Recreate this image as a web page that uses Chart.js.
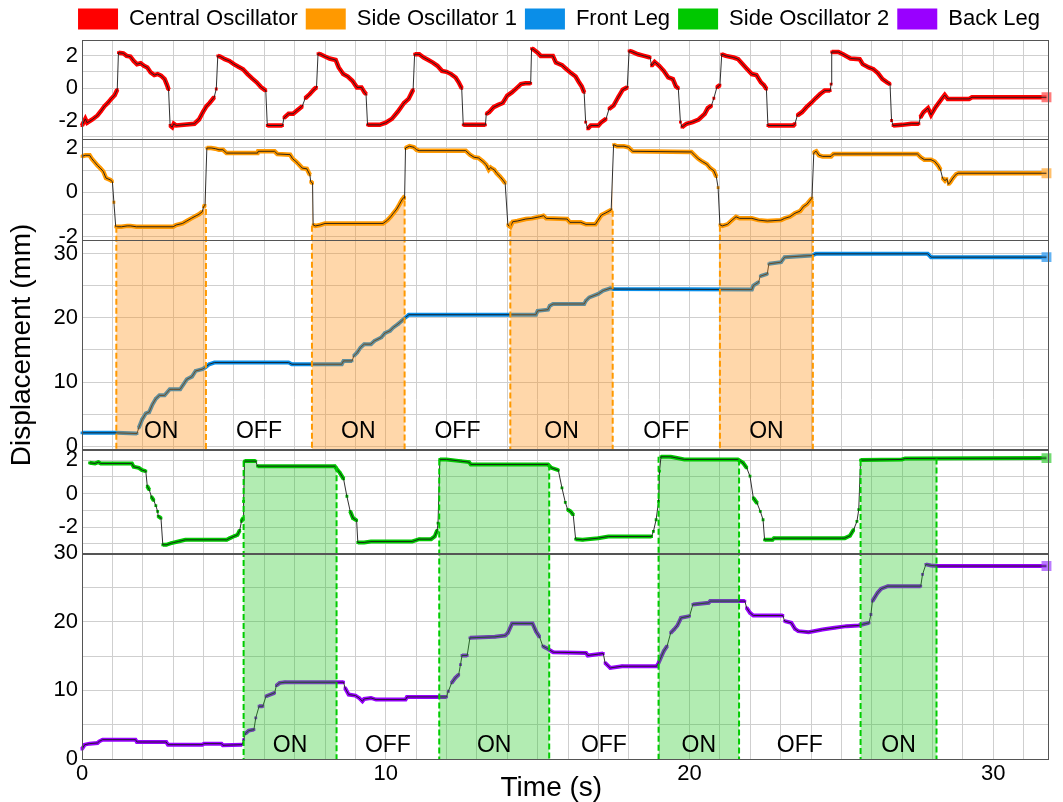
<!DOCTYPE html>
<html><head><meta charset="utf-8">
<script src="https://cdn.jsdelivr.net/npm/chart.js@4.4.1/dist/chart.umd.min.js"></script>
<style>html,body{margin:0;padding:0;background:#fff}canvas{display:block}</style>
</head><body>
<canvas id="c" width="1063" height="802"></canvas>
<script>
// ---------- data ----------
const centralT = [0,0.11,0.17,0.34,0.51,0.62,0.74,0.85,0.96,1.08,1.16,1.2,1.36,1.47,1.59,1.7,1.81,1.93,2.04,2.15,2.26,2.38,2.49,2.6,2.72,2.8,2.85,2.9,2.97,3.02,3.1,3.7,3.85,3.98,4.1,4.2,4.35,4.42,4.47,4.55,4.7,4.85,5.0,5.15,5.3,5.45,5.6,5.75,5.9,6.05,6.1,6.6,6.65,6.8,6.95,7.1,7.25,7.35,7.5,7.65,7.72,7.77,7.85,8.0,8.15,8.35,8.45,8.6,8.75,8.9,9.05,9.2,9.3,9.35,9.4,9.8,10.0,10.2,10.4,10.6,10.75,10.9,10.95,11.1,11.25,11.4,11.55,11.7,11.85,12.0,12.15,12.3,12.4,12.5,12.55,13.28,13.31,13.4,13.55,13.7,13.85,14.0,14.15,14.3,14.45,14.6,14.77,14.8,14.85,15.0,15.1,15.5,15.6,15.8,15.95,16.1,16.25,16.35,16.45,16.53,16.58,16.65,16.75,17.0,17.1,17.25,17.35,17.5,17.65,17.8,17.95,18.01,18.1,18.3,18.5,18.7,18.75,18.85,19.0,19.15,19.3,19.45,19.55,19.63,19.7,19.75,19.9,20.1,20.3,20.5,20.6,20.72,20.8,20.9,21.0,21.06,21.2,21.45,21.6,21.75,21.9,22.05,22.2,22.35,22.45,22.53,22.58,23.42,23.47,23.55,23.7,23.85,24.0,24.15,24.3,24.45,24.63,24.66,24.68,24.9,25.05,25.3,25.6,25.7,25.9,26.05,26.2,26.35,26.5,26.6,26.65,26.7,27.0,27.3,27.55,27.6,27.7,27.85,27.95,28.1,28.3,28.4,28.5,29.2,29.3,31.75];
const centralV = [-2.31,-1.9,-2.14,-1.94,-1.69,-1.43,-1.12,-0.92,-0.67,-0.43,-0.1,2.18,2.14,1.98,1.94,1.67,1.47,1.53,1.37,1.27,0.96,0.8,0.86,0.76,0.55,0.18,-0.1,-2.31,-2.41,-2.2,-2.31,-2.2,-1.94,-1.49,-1.12,-0.92,-0.57,-0.06,1.98,1.94,1.78,1.67,1.47,1.31,1.16,0.86,0.59,0.35,0.04,-0.16,-2.31,-2.31,-1.84,-1.59,-1.59,-1.35,-1.12,-0.63,-0.37,-0.06,0.04,2.12,2.08,1.94,1.82,1.73,1.27,0.86,0.71,0.45,0.04,0.04,-0.27,-0.37,-2.27,-2.27,-2.14,-1.9,-1.45,-0.92,-0.67,-0.1,2.08,2.08,1.88,1.73,1.57,1.37,1.06,1.0,0.86,0.65,0.35,-0.02,-2.27,-2.27,-1.59,-1.49,-1.18,-1.04,-0.92,-0.47,-0.27,-0.02,0.24,0.29,0.29,2.43,2.39,2.18,1.98,1.98,1.57,1.41,1.16,0.92,0.71,0.39,0.1,-0.27,-2.1,-2.51,-2.31,-2.31,-2.1,-1.9,-1.29,-1.08,-0.57,-0.1,0.04,2.29,2.24,2.08,1.98,1.88,1.37,1.61,1.37,1.06,0.65,0.55,0.1,-0.02,-2.1,-2.41,-2.2,-2.1,-1.94,-1.59,-1.24,-1.08,-0.63,0.04,0.18,2.08,1.98,1.88,1.78,1.47,1.16,0.86,0.8,0.35,0.18,-0.06,-2.31,-2.31,-2.2,-1.69,-1.49,-1.18,-0.92,-0.63,-0.37,-0.16,-0.16,0.24,2.22,2.22,2.08,1.82,1.78,1.47,1.27,1.16,0.92,0.55,0.35,0.24,-2.0,-2.31,-2.27,-2.2,-2.2,-1.8,-1.49,-1.24,-1.65,-1.18,-0.67,-0.43,-0.67,-0.67,-0.57,-0.57];

const side1T = [0,0.11,0.25,0.32,0.4,0.51,0.6,0.7,0.79,0.93,1.0,1.05,1.11,1.3,1.49,1.59,1.79,3.0,3.1,3.31,3.45,3.6,3.76,3.85,3.96,4.0,4.05,4.11,4.25,4.39,4.51,4.64,4.76,5.78,5.8,6.34,6.43,6.85,6.93,7.04,7.13,7.25,7.4,7.5,7.53,7.59,7.61,7.68,7.84,8.0,9.91,10.06,10.16,10.25,10.36,10.45,10.53,10.59,10.62,10.65,10.78,10.93,11.01,11.1,12.63,12.77,12.91,13.05,13.2,13.31,13.39,13.45,13.51,13.57,13.65,13.76,13.85,13.93,14.02,14.1,14.18,14.33,14.61,14.81,15.06,15.19,15.28,15.97,16.06,16.42,16.59,16.9,16.99,17.1,17.22,17.31,17.42,17.5,17.61,17.84,17.99,18.13,20.06,20.17,20.28,20.42,20.57,20.68,20.8,20.88,20.94,21.0,21.08,21.25,21.4,21.53,21.65,22.05,22.27,22.56,23.01,23.13,23.3,23.47,23.64,23.75,23.86,23.98,24.03,24.09,24.12,24.17,24.26,24.38,24.66,24.74,27.5,27.61,27.73,27.95,28.07,28.18,28.26,28.33,28.41,28.47,28.52,28.58,28.67,28.78,28.86,31.75];
const side1V = [1.62,1.67,1.67,1.52,1.39,1.21,1.09,0.94,0.64,0.56,0.48,-0.45,-1.56,-1.56,-1.52,-1.52,-1.56,-1.56,-1.48,-1.41,-1.3,-1.18,-1.06,-1.0,-0.88,-0.65,-0.6,2.0,2.0,1.97,1.92,1.92,1.77,1.77,1.85,1.85,1.73,1.7,1.52,1.39,1.27,1.09,1.06,0.79,0.48,0.41,-1.48,-1.52,-1.48,-1.41,-1.41,-1.26,-1.11,-0.95,-0.76,-0.55,-0.35,-0.24,-0.27,2.0,2.08,2.03,1.92,1.88,1.88,1.7,1.58,1.55,1.39,1.24,1.02,1.12,1.06,1.02,0.86,0.71,0.56,0.41,-1.48,-1.56,-1.33,-1.3,-1.21,-1.18,-1.11,-1.06,-1.18,-1.21,-1.36,-1.36,-1.45,-1.45,-1.26,-1.03,-0.95,-0.88,-0.8,2.15,2.08,2.08,2.03,1.85,1.82,1.67,1.52,1.39,1.27,1.09,0.97,0.71,0.21,-1.48,-1.52,-1.45,-1.26,-1.11,-1.18,-1.18,-1.26,-1.3,-1.26,-1.18,-1.11,-0.95,-0.85,-0.65,-0.55,-0.35,-0.27,1.77,1.82,1.85,1.67,1.62,1.62,1.73,1.73,1.58,1.47,1.47,1.39,1.21,1.02,0.64,0.52,0.61,0.36,0.45,0.64,0.82,0.86,0.86];

const frontT = [0,1.13,1.81,1.87,1.98,2.1,2.21,2.32,2.43,2.55,2.72,2.89,3.23,3.34,3.45,3.62,3.74,3.96,4.05,4.19,4.36,6.8,6.91,8.55,8.61,8.89,8.95,9.06,9.17,9.29,9.51,9.63,9.85,9.97,10.14,10.25,10.4,10.53,10.65,10.76,14.94,15.0,15.34,15.4,15.51,16.53,16.59,16.7,16.99,17.16,17.39,17.5,22.05,22.1,22.27,22.33,22.56,22.61,23.01,23.13,24.03,24.15,27.84,27.95,31.75];
const frontV = [2.09,2.09,1.98,2.87,4.17,5.11,5.32,6.52,7.41,7.93,7.93,8.87,8.87,9.65,10.43,10.85,11.74,12.0,12.26,12.78,13.04,13.04,12.78,12.78,13.3,13.3,14.08,14.61,15.39,15.91,15.91,16.43,16.95,17.63,18.0,18.52,19.04,19.56,20.08,20.5,20.5,21.1,21.28,21.9,22.17,22.17,22.69,23.2,23.73,24.26,24.62,24.5,24.41,25.04,25.56,26.5,26.87,28.43,28.69,29.47,29.73,29.99,29.99,29.47,29.47];

const side2T = [0.25,0.43,0.54,0.62,1.64,1.7,1.87,1.98,2.1,2.15,2.21,2.29,2.36,2.43,2.49,2.51,2.6,2.66,2.77,2.94,3.17,3.4,4.76,4.87,5.04,5.12,5.19,5.25,5.3,5.32,5.35,5.72,5.78,8.32,8.38,8.49,8.61,8.72,8.83,8.92,9.04,9.08,9.29,9.51,10.87,11.1,11.49,11.61,11.69,11.72,11.78,12.0,12.46,12.74,12.8,15.34,15.45,15.68,15.8,15.91,15.99,16.08,16.17,16.25,16.48,16.99,17.33,18.75,18.81,18.9,18.98,19.01,19.06,19.38,19.55,19.83,21.59,21.76,21.88,21.99,22.1,22.22,22.33,22.42,22.47,22.73,22.78,25.11,25.28,25.4,25.51,25.57,25.63,26.99,27.1,31.75];
const side2V = [1.84,1.8,1.88,1.8,1.8,1.6,1.54,1.4,1.34,0.44,0.24,-0.2,-0.4,-0.72,-1.06,-1.36,-1.46,-3.06,-3.06,-2.96,-2.86,-2.76,-2.76,-2.66,-2.52,-2.46,-2.2,-1.66,-1.46,-0.46,1.94,1.94,1.64,1.64,1.48,1.24,0.88,-0.16,-1.06,-1.46,-1.6,-2.92,-2.92,-2.86,-2.86,-2.72,-2.72,-2.56,-2.2,-1.76,2.04,2.04,1.94,1.88,1.74,1.74,1.54,1.4,0.34,-0.52,-0.96,-1.06,-1.26,-2.72,-2.76,-2.66,-2.56,-2.56,-2.26,-1.56,-0.46,1.34,2.2,2.2,2.14,2.04,2.04,1.84,1.54,1.04,-0.26,-0.56,-1.06,-1.56,-2.76,-2.76,-2.66,-2.66,-2.52,-2.16,-1.66,-0.96,2.0,2.04,2.1,2.12];

const backT = [0,0.09,0.25,0.51,0.57,0.68,1.76,1.81,2.77,2.83,3.96,4.02,4.59,4.64,5.27,5.32,5.38,5.49,5.66,5.72,5.83,5.95,6.06,6.34,6.4,6.51,6.68,8.61,8.66,8.78,9.0,9.12,9.23,9.29,9.51,9.68,10.65,10.7,12.0,12.06,12.17,12.29,12.4,12.46,12.51,12.68,12.77,13.59,13.93,14.02,14.16,14.83,14.94,15.06,15.17,15.28,15.51,16.59,16.65,17.16,17.22,17.39,17.78,18.92,18.98,19.15,19.26,19.38,19.49,19.6,19.72,20.0,20.11,20.63,20.68,21.82,21.88,21.99,22.1,23.07,23.13,23.35,23.47,23.58,23.92,24.38,24.77,25.17,25.57,25.68,25.91,25.97,26.02,26.19,26.31,26.53,27.61,27.67,27.78,27.95,28.18,31.75];
const backV = [1.46,2.09,2.24,2.34,2.58,2.82,2.82,2.48,2.48,2.09,2.09,2.24,2.24,2.0,2.09,2.82,3.7,4.14,4.28,5.99,7.69,7.69,9.15,9.64,10.71,11.1,11.19,11.19,10.36,9.39,9.25,8.9,8.42,8.76,8.9,8.66,8.66,9.05,9.05,9.88,11.1,11.82,12.31,13.77,15.09,15.09,17.66,17.81,18.0,18.39,19.76,19.76,18.64,17.81,16.45,16.2,15.57,15.47,15.09,15.38,14.01,13.28,13.53,13.53,14.01,15.72,16.45,18.39,18.88,19.46,20.58,20.83,22.53,22.77,23.02,23.02,22.04,21.31,20.92,20.92,20.1,19.85,18.98,18.64,18.49,18.88,19.12,19.37,19.46,19.61,19.85,21.07,23.02,24.23,24.82,25.2,25.2,26.91,28.37,28.22,28.13,28.13];

// actuation intervals (s)
const side1OnStart = [1.13, 7.57, 14.1, 21.0];
const side1OnEnd   = [4.08, 10.62, 17.47, 24.06];
const side2OnStart = [5.32, 11.76, 18.98, 25.63];
const side2OnEnd   = [8.38, 15.38, 21.63, 28.13];

// ticks
const xGridValues  = [0,1,2,3,4,5,6,7,8,9,10,11,12,13,14,15,16,17,18,19,20,21,22,23,24,25,26,27,28,29,30,31];
const xLabelValues = [0,10,20,30];
const oscGridValues  = [-3,-2,-1,0,1,2];
const oscLabelValues = [-2,0,2];
const legGridValues  = [0,5,10,15,20,25,30];
const legLabelValues = [0,10,20,30];

// ---------- chart ----------
const FONT = "'Liberation Sans', Arial, Helvetica, sans-serif";
Chart.defaults.font.family = FONT;
Chart.defaults.color = '#000';

const SERIES = [
  {label:'Central Oscillator', t:centralT, v:centralV, color:'#ff0000', end:'rgba(255,90,90,0.8)',  axis:'yCentral', width:4.5},
  {label:'Side Oscillator 1',  t:side1T,   v:side1V,   color:'#ff9900', end:'rgba(255,180,80,0.85)', axis:'ySide1',   width:4.5},
  {label:'Front Leg',          t:frontT,   v:frontV,   color:'#0a8ee8', end:'rgba(60,160,240,0.8)',  axis:'yFront',   width:4},
  {label:'Side Oscillator 2',  t:side2T,   v:side2V,   color:'#00c800', end:'rgba(80,210,80,0.8)',   axis:'ySide2',   width:4},
  {label:'Back Leg',           t:backT,    v:backV,    color:'#9900ff', end:'rgba(170,90,255,0.8)',  axis:'yBack',    width:4}
];
const zip = (ts, vs) => ts.map((t, i) => ({x: t, y: vs[i]}));
const steep = c => {
  const dx = Math.abs(c.p1.x - c.p0.x), dy = Math.abs(c.p1.y - c.p0.y);
  return dy > 5 && dy > 2.5 * dx;
};

const datasets = [];
SERIES.forEach(s => {
  const last = s.t.length - 1;
  datasets.push({
    label: s.label, data: zip(s.t, s.v), yAxisID: s.axis, xAxisID: 'x',
    borderColor: s.color, backgroundColor: s.color, borderWidth: s.width,
    fill: false, tension: 0, order: 2, clip: 8,
    pointStyle: 'rect',
    pointRadius: c => c.dataIndex === last ? 7 : 2,
    pointBackgroundColor: c => c.dataIndex === last ? s.end : s.color,
    pointBorderWidth: 0,
    segment: { borderColor: c => steep(c) ? 'rgba(0,0,0,0)' : undefined }
  });
});
SERIES.forEach(s => {
  datasets.push({
    label: s.label + ' trace', hideInLegend: true, data: zip(s.t, s.v), yAxisID: s.axis, xAxisID: 'x',
    borderColor: 'rgba(25,25,25,0.9)', borderWidth: 1, pointRadius: 0, fill: false, tension: 0, order: 1
  });
});

const GRID = '#cfcfcf', BORDER = '#555';
function yAxis(min, max, weight, grid, labels, extra) {
  return Object.assign({
    type: 'linear', position: 'left', stack: 'panels', stackWeight: weight, min, max,
    afterBuildTicks: s => { s.ticks = grid.filter(v => v >= min && v <= max).map(v => ({value: v})); },
    afterFit: s => { s.width = 82; },
    ticks: { autoSkip: false, padding: 4, font: {size: 22}, color: '#000',
             callback: v => labels.includes(v) ? String(v) : '' },
    grid: { color: GRID, drawTicks: false },
    border: { color: BORDER }
  }, extra || {});
}

const REGIONS = [
  {src: 1, leg: 'yFront', starts: side1OnStart, ends: side1OnEnd, fill: 'rgba(255,145,20,0.36)', line: '#ff9900', labelValue: 2.3},
  {src: 3, leg: 'yBack',  starts: side2OnStart, ends: side2OnEnd, fill: 'rgba(30,200,30,0.34)',  line: '#00cc00', labelValue: 2.0}
];
function curveYAt(pts, x) {
  for (let i = 0; i < pts.length - 1; i++) {
    const a = pts[i], b = pts[i + 1];
    if (x >= a.x && x <= b.x) return b.x === a.x ? a.y : a.y + (b.y - a.y) * (x - a.x) / (b.x - a.x);
  }
  return pts[pts.length - 1].y;
}
const regionPlugin = {
  id: 'onRegions',
  beforeDatasetsDraw(chart) {
    const ctx = chart.ctx, xs = chart.scales.x;
    REGIONS.forEach(r => {
      const meta = chart.getDatasetMeta(r.src), ys = meta.yScale, pts = meta.data;
      r.starts.forEach((s, i) => {
        const x0 = xs.getPixelForValue(s), x1 = xs.getPixelForValue(r.ends[i]);
        ctx.save();
        ctx.beginPath(); ctx.rect(x0, ys.top, x1 - x0, ys.bottom - ys.top); ctx.clip();
        ctx.beginPath(); ctx.moveTo(pts[0].x, ys.bottom);
        pts.forEach(p => ctx.lineTo(p.x, p.y));
        ctx.lineTo(pts[pts.length - 1].x, ys.bottom); ctx.closePath();
        ctx.fillStyle = r.fill; ctx.fill();
        ctx.restore();
      });
    });
  },
  afterDatasetsDraw(chart) {
    const ctx = chart.ctx, xs = chart.scales.x;
    REGIONS.forEach(r => {
      const meta = chart.getDatasetMeta(r.src), pts = meta.data, ls = chart.scales[r.leg];
      ctx.save();
      r.starts.forEach((s, i) => {
        const x0 = xs.getPixelForValue(s), x1 = xs.getPixelForValue(r.ends[i]);
        ctx.fillStyle = r.fill;
        ctx.fillRect(x0, ls.top, x1 - x0, ls.bottom - ls.top);
        ctx.strokeStyle = r.line; ctx.lineWidth = 2; ctx.setLineDash([6, 3]);
        [[x0, curveYAt(pts, x0 + 3)], [x1, curveYAt(pts, x1 - 3)]].forEach(([x, y]) => {
          ctx.beginPath(); ctx.moveTo(x, y); ctx.lineTo(x, ls.bottom); ctx.stroke();
        });
      });
      ctx.setLineDash([]);
      ctx.fillStyle = '#000'; ctx.font = "23px " + FONT; ctx.textAlign = 'center'; ctx.textBaseline = 'middle';
      const y = ls.getPixelForValue(r.labelValue);
      r.starts.forEach((s, i) => {
        ctx.fillText('ON', xs.getPixelForValue((s + r.ends[i]) / 2), y);
        if (i < r.starts.length - 1) ctx.fillText('OFF', xs.getPixelForValue((r.ends[i] + r.starts[i + 1]) / 2), y);
      });
      ctx.restore();
    });
  }
};
const framePlugin = {
  id: 'panelFrames',
  afterDraw(chart) {
    const ctx = chart.ctx, ca = chart.chartArea;
    ctx.save(); ctx.strokeStyle = BORDER; ctx.lineWidth = 1;
    ['yCentral','ySide1','yFront','ySide2','yBack'].forEach(id => {
      const s = chart.scales[id];
      ctx.strokeRect(Math.round(ca.left) + 0.5, Math.round(s.top) + 0.5, Math.round(ca.right - ca.left), Math.round(s.bottom - s.top));
    });
    // x-axis title, placed slightly left of centre as in the original figure
    const xs = chart.scales.x;
    ctx.fillStyle = '#000'; ctx.font = "28px " + FONT; ctx.textAlign = 'center'; ctx.textBaseline = 'middle';
    ctx.fillText('Time (s)', xs.getPixelForValue(15.45), xs.bottom - 14);
    ctx.restore();
  }
};

new Chart(document.getElementById('c'), {
  type: 'line',
  data: { datasets },
  plugins: [regionPlugin, framePlugin],
  options: {
    responsive: false, animation: false, events: [],
    layout: { padding: { top: 0, right: 15, bottom: 0, left: 0 } },
    plugins: {
      tooltip: { enabled: false },
      legend: {
        position: 'top', align: 'end',
        labels: {
          boxWidth: 40, boxHeight: 21, padding: 8, font: { size: 22 }, color: '#000',
          filter: (item, data) => !data.datasets[item.datasetIndex].hideInLegend,
          generateLabels: chart => Chart.defaults.plugins.legend.labels.generateLabels(chart).map(l => {
            const c = chart.data.datasets[l.datasetIndex].borderColor;
            return Object.assign(l, { lineWidth: 0, fillStyle: c, strokeStyle: c });
          })
        }
      }
    },
    scales: {
      x: {
        type: 'linear', position: 'bottom', min: 0, max: 31.8,
        afterBuildTicks: s => { s.ticks = xGridValues.map(v => ({value: v})); },
        afterFit: s => { s.height = 43; },
        ticks: { autoSkip: false, maxRotation: 0, padding: 2, font: {size: 22}, color: '#000',
                 callback: v => xLabelValues.includes(v) ? String(v) : '' },
        grid: { color: GRID, drawTicks: false },
        border: { color: BORDER }
      },
      yBack:    yAxis(0, 30, 205.5, legGridValues, legLabelValues),
      ySide2:   yAxis(-3.56, 2.63, 103.5, oscGridValues, oscLabelValues),
      yFront:   yAxis(-0.52, 32.1, 209, legGridValues, legLabelValues, {
                  title: { display: true, text: 'Displacement (mm)', font: { size: 28, lineHeight: 1 }, padding: { top: 8, bottom: 0 }, color: '#000' } }),
      ySide1:   yAxis(-2.17, 2.4, 101, oscGridValues, oscLabelValues),
      yCentral: yAxis(-3.15, 2.96, 99, oscGridValues, oscLabelValues)
    }
  }
});
</script>
</body></html>
